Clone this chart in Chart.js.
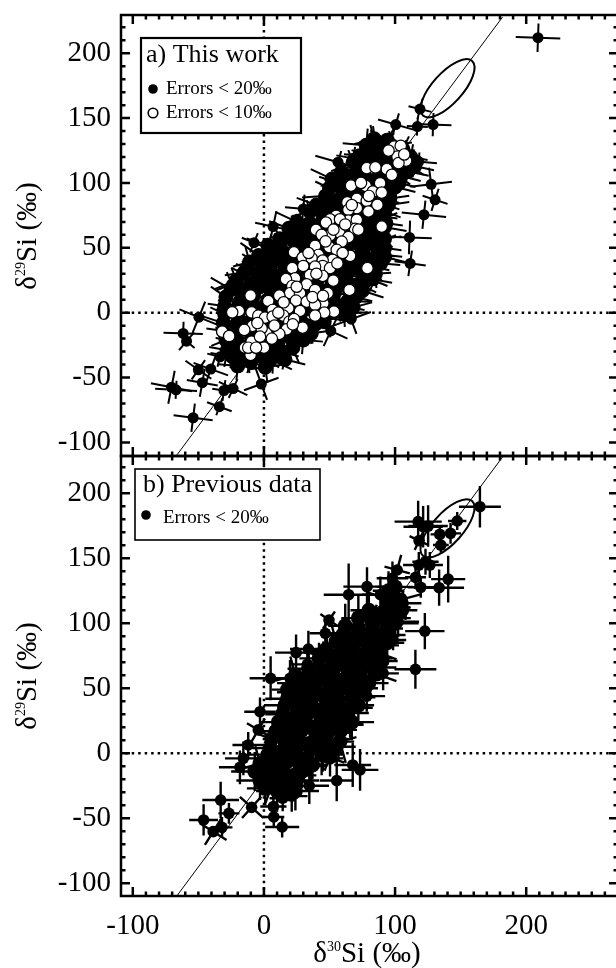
<!DOCTYPE html>
<html>
<head>
<meta charset="utf-8">
<style>
html, body { margin: 0; padding: 0; background: #fff; width: 616px; height: 968px; overflow: hidden; }
canvas { position: absolute; left: 0; }
#panelA { top: 0; }
#panelB { top: 446px; }
</style>
<script src="https://cdn.jsdelivr.net/npm/chart.js@4"></script>
</head>
<body>
<canvas id="panelA" width="620" height="466"></canvas>
<canvas id="panelB" width="620" height="522"></canvas>
<script>
// Axis ticks
const xMajor = [-100, 0, 100, 200];
const xMinor = [-90, -80, -70, -60, -50, -40, -30, -20, -10, 10, 20, 30, 40, 50, 60, 70, 80, 90, 110, 120, 130, 140, 150, 160, 170, 180, 190, 210, 220, 230, 240, 250, 260];
const yMajor = [-100, -50, 0, 50, 100, 150, 200];
const yMinor = [-90, -80, -70, -60, -40, -30, -20, -10, 10, 20, 30, 40, 60, 70, 80, 90, 110, 120, 130, 140, 160, 170, 180, 190, 210, 220];

// Reference line and ellipse, shared by both panels
const lineX = [-66.6, 182];
const lineY = [-110, 228];
const ellipseCentre = [140, 173];
const ellipseSemi = [28, 11.5];
const ellipseAngle = -48;

// Panel a: isolated points, read one by one
const aOutX = [209, 119, 100.5, 117, 129, 56.5, 118, 127.5, 130.5, 122, 111, 111.5, 92.5, 84, 66.5, 51, -7.6, -17, -24.6, -49.6, -61.6, -59, -50, -40.5, -47, -30.5, -23.5, -2, -34, -54, -70.5, -67, -33.5, 7, 30, 53.5, 68, 84.7, 106];
const aOutY = [212, 157, 145, 143.5, 145, 116, 116.5, 99, 87, 75.5, 58, 38, 44.5, 24.7, -5, -14, 54, 30.5, 22, -3.5, -16, -22, -44, -43.5, -54, -60, -58.5, -55, -72.5, -81, -57.5, -59.5, -34, 66.4, 80, 101, 119, 133, 105];
const aOutErrX = [17, 9, 14, 8, 14, 18, 14, 16, 10, 17, 17, 12, 13, 11, 16, 14, 10, 9, 12, 16, 15, 8, 12, 14, 12, 9, 12, 14, 10, 15, 16, 16, 10, 14, 14, 12, 13, 12, 14];
const aOutErrY = [11, 8, 9, 7, 9, 9, 7, 13, 9, 11, 13, 10, 10, 9, 12, 13, 8, 8, 10, 13, 9, 9, 9, 10, 11, 8, 8, 13, 7, 11, 13, 7, 8, 12, 11, 10, 9, 11, 12];
const aOutRot = [2, 14, 16, 3, 2, 16, 5, -7, 18, 6, 2, 8, 6, 22, -20, 25, 22, 28, -22, 22, 2, 40, 35, 20, 10, 8, 25, -20, 20, 7, 11, 3, 14, 12, 5, 18, 10, -8, 14];

// Panel a: the dense cloud of filled points
const aCloudX = [-20, -10, 1, 5, -28, -17, -8, 3, 12, 22, -31, -22, -11, -1, 10, 19, 28, 36, -30, -20, -9, 0, 11, 21, 30, 41, 50, 61, -29, -18, -8, 3, 13, 24, 33, 44, 53, 64, 70, -21, -10, 1, 10, 21, 32, 41, 52, 63, 72, 81, -11, -1, 9, 19, 31, 40, 51, 60, 71, 80, 89, 3, 13, 24, 33, 44, 53, 64, 75, 84, 92, 19, 29, 38, 48, 59, 68, 77, 87, 92, 35, 45, 56, 65, 74, 85, 92, 47, 57, 66, 77, 87, 96, 52, 62, 73, 82, 92, 103, 68, 77, 88, 98, 108, 115, 78, 88, 97, 106,
    -24, -14, -4, 7, 16, -29, -20, -9, 1, 11, 21, 30, -31, -21, -11, -1, 9, 19, 29, 39, 46, -30, -20, -10, 0, 10, 20, 30, 40, 50, 60, 68, -25, -15, -5, 5, 15, 25, 35, 45, 55, 65, 75, -15, -5, 5, 15, 25, 35, 45, 55, 65, 75, 85, -4, 6, 16, 26, 36, 46, 56, 66, 76, 86, 92, 12, 22, 32, 42, 52, 62, 72, 82, 92, 25, 35, 45, 55, 65, 75, 85, 93, 40, 50, 60, 70, 80, 90, 95, 50, 60, 70, 80, 90, 100, 60, 70, 80, 90, 100, 110, 73, 83, 93, 103, 112, 84, 94];
const aCloudY = [-41, -38, -42, -36, -29, -27, -31, -26, -30, -27, -14, -17, -13, -16, -12, -15, -13, -16, -1, -3, 1, -4, 0, -2, 2, -3, 0, -1, 12, 9, 13, 10, 13, 9, 12, 10, 13, 9, 12, 25, 22, 26, 23, 25, 22, 26, 23, 25, 22, 26, 39, 36, 40, 37, 39, 36, 40, 37, 39, 36, 38, 52, 49, 53, 50, 52, 49, 52, 50, 53, 50, 65, 62, 66, 63, 65, 62, 65, 63, 66, 78, 75, 79, 76, 78, 75, 78, 90, 87, 91, 88, 90, 88, 103, 100, 104, 101, 103, 100, 116, 113, 117, 114, 116, 113, 129, 127, 129, 126,
    -34, -35, -33, -34, -36, -21, -22, -20, -21, -22, -20, -21, -8, -9, -7, -8, -9, -7, -8, -9, -7, 5, 4, 6, 5, 4, 6, 5, 4, 6, 5, 4, 18, 17, 19, 18, 17, 19, 18, 17, 19, 18, 17, 31, 30, 32, 31, 30, 32, 31, 30, 32, 31, 30, 44, 43, 45, 44, 43, 45, 44, 43, 45, 44, 43, 57, 56, 58, 57, 56, 58, 57, 56, 57, 70, 69, 71, 70, 69, 71, 70, 69, 83, 82, 84, 83, 82, 84, 83, 96, 95, 97, 96, 95, 97, 108, 107, 109, 108, 107, 109, 121, 120, 122, 121, 120, 134, 133];
const aCloudErrX = [15, 17, 13, 18, 14, 16, 12, 17, 15, 18, 13, 16];
const aCloudErrY = [11, 9, 12, 10, 13, 8, 11, 12, 9, 13, 10, 11];
const aCloudRot = [5, 18, -8, 25, 10, -15, 30, 2, 14, -22, 8, 20, -4, 35, 12];

// Panel a: open circles
const aOpenX = [99.3, 104.3, 101.8, 108.4, 102.6, 93.7, 82.2, 78.4, 97.5, 88.6, 66.4, 77.6, 83, 89.8, 70.8, 63.6, 78.4, 86.5, 70.8, 64.4, 79.7, 55, 50.4, 47.3, 64.4, 70.8, 69.5, 89.8, 39.7, 57.5, 50.4, 44, 64.4, 59.3, 39, 49.9, 55.5, 22.9, 65.7, 29.5, 41.5, 36.4, 52.4, 44.8, 44.8, 50.4, 39, 35.1, 44.8, 78.9, 52.9, 21.6, 23.7, 16.8, 21.6, 32.6, 65.2, 39, 48.6, 19.9, 27.5, 11.7, -10.2, 3.3, 24.4, 32.6, 45.3, 39, -19.1, -24.2, -9.4, 6.6, 18.6, 27.5, 53.4, 46, 39, -4.3, 0.8, 6.6, 14.8, 19.3, 29.5, 17.3, -8.7, -15, -31.8, -26.5, 2, 11.7, -1.8, -9.4, -14.5, 0, -10.2, -3,
    95, 107, 85, 74, 80, 67, 58, 53, 47, 60, 34, 30, 40, 56, 25, 37, 45, 15, 11, 23, 8, -5, 22, -12, 6, -6, 72, 62];
const aOpenY = [128.1, 128.7, 120.4, 117.3, 115.3, 110.6, 111.4, 111.4, 106.3, 99.8, 98, 97.8, 93.4, 92.6, 87.8, 85, 86.2, 83.1, 80.6, 79.3, 78, 74.6, 72, 69.5, 71, 71.6, 64.6, 66.4, 63.8, 61.8, 59.5, 60, 58.2, 54.8, 51.5, 50.5, 48.4, 46.6, 43.8, 42.5, 44.5, 42, 40.7, 40.2, 36, 34.3, 35.5, 29.1, 28.3, 34.3, 24.7, 34.3, 26.5, 25.8, 20.6, 21.9, 17.5, 17.5, 15, 15, 15, 13.2, 13.2, 9, 9.3, 8.5, 7.2, 6, 1.3, 0.3, 0.3, 2.1, 3.4, 1.3, 0.8, 0, -2.3, -2.3, -3.8, -3, -2.3, -6.9, -11.5, -12.8, -10.2, -13.3, -14.6, -18, -15.9, -16.4, -12, -22.3, -27, -27, -32.6, -18.5,
    125, 122, 112, 100, 90, 83, 72, 64, 55, 46, 46, 36, 30, 38, 20, 12, 13, 8, 0, -5, -10, -8, -9, -27, -20, -27, 64, 68];

// Panel b: isolated points, read one by one
const bOutX = [164.7, 147.4, 117.6, 125.2, 121.4, 134.1, 142.3, 118.3, 134.9, 123.2, 126.5, 118.1, 101.6, 115.6, 140.5, 133.6, 119.6, 98, 78.6, 64.6, 88.8, 106.1, 122.7, 115.5, 98.5, 49.6, 46.8, 102.3, 90.9, 33.9, 24.5, 33.1, 5.1, 19.9, 41.5, -3, -4.3, -12, -15.7, -18.3, 78.4, 68.2, 65.7, 56.8, 50.4, 67.7, 73.3, 55.5, 34.6, 35.9, 21.2, 14.3, 7.2, 7.5, -9.4, -26.7, -33, 13.9, -32, -38.7, -46];
const bOutY = [189.7, 178.7, 178.2, 174.8, 174.3, 168.4, 169.2, 163.6, 160.2, 147.4, 144.8, 144.8, 141, 135.4, 134, 127.4, 127.7, 134.6, 128.2, 122, 122, 115.4, 94, 64.6, 87.2, 102.5, 92.3, 101.3, 61.5, 80.2, 77.4, 68.4, 57.7, 57.7, 76.9, 32, 18, 6.4, -3.9, -10.8, 44, 37, 23, 9, -3.9, -9, -12.8, -21, -25, -9.8, -33, -34.6, -41, -49, -41.6, -46.2, -36, -56.7, -57, -60.3, -51.3];
const bOutErrX = [16, 7, 18, 15, 15, 7, 8, 8, 6, 10, 10, 12, 10, 8, 13, 19, 10, 12, 18, 19, 14, 14, 15, 16, 10, 8, 12, 16, 12, 14, 16, 12, 16, 14, 10, 12, 10, 12, 14, 16, 14, 12, 10, 12, 10, 14, 14, 13, 15, 12, 12, 10, 10, 8, 12, 8, 14, 13, 8, 12, 11];
const bOutErrY = [16, 7, 16, 16, 16, 7, 8, 8, 6, 10, 10, 10, 12, 7, 18, 14, 8, 13, 15, 24, 14, 10, 14, 15, 8, 8, 10, 12, 13, 14, 14, 13, 17, 14, 10, 11, 10, 10, 13, 13, 12, 12, 11, 14, 14, 17, 16, 16, 14, 16, 12, 10, 9, 8, 11, 8, 14, 8, 8, 12, 12];
const bOutRot = [0, 0, 0, 0, 0, 0, 0, 25, 0, 0, 0, 0, 15, 0, 0, 0, 0, 0, 0, 0, 0, 0, 0, 0, 0, 35, 0, 0, 0, 0, 0, 0, 0, 0, 25, 0, 30, 0, 0, 0, 0, 0, 0, 0, 0, 0, 0, 0, 0, 0, 0, 0, 0, 0, 42, 0, 0, 0, 0, 32, 0];

// Panel b: the dense cloud
const bCloudX = [80, 90, 99, 95, 62, 72, 83, 94, 55, 65, 75, 85, 94, 42, 52, 62, 72, 82, 90, 24, 34, 44, 54, 64, 74, 86, 18, 28, 38, 48, 58, 68, 73, 16, 26, 36, 46, 56, 66, 72, 11, 21, 31, 41, 51, 61, 67, 6, 16, 26, 36, 46, 58, 3, 13, 23, 33, 44, 50, -7, 3, 13, 23, 29, 1, 10, 18, 24,
    72, 82, 92, 100, 60, 70, 80, 90, 48, 58, 68, 78, 88, 34, 44, 54, 64, 74, 84, 22, 30, 40, 50, 60, 70, 80, 18, 27, 37, 47, 57, 67, 14, 24, 34, 44, 54, 64, 9, 19, 29, 39, 49, 59, 5, 15, 25, 35, 45, 55, -3, 7, 17, 27, 37, -3, 7, 15, 25, 95, 100, 104, 105, 100];
const bCloudY = [110, 108, 112, 118, 98, 96, 99, 96, 86, 84, 87, 83, 85, 73, 71, 74, 70, 73, 71, 60, 58, 61, 57, 60, 58, 61, 49, 47, 50, 46, 49, 47, 50, 37, 35, 38, 34, 37, 35, 37, 24, 22, 25, 21, 24, 22, 24, 11, 9, 12, 8, 11, 9, -1, -3, 0, -4, -1, -3, -14, -16, -13, -17, -14, -27, -29, -26, -29,
    104, 103, 105, 104, 91, 90, 92, 91, 78, 77, 79, 78, 77, 65, 64, 66, 65, 64, 66, 54, 53, 55, 54, 53, 55, 54, 42, 41, 43, 42, 41, 43, 30, 29, 31, 30, 29, 31, 17, 16, 18, 17, 16, 18, 4, 3, 5, 4, 3, 5, -8, -9, -7, -8, -9, -21, -22, -20, -21, 125, 128, 118, 110, 100];
const bCloudErrX = [14, 16, 12, 18, 13, 15, 17, 12];
const bCloudErrY = [13, 16, 11, 15, 17, 12, 14, 15];
const bCloudRot = [0, 0, 0, 20, 0, 0, 0, 0, -15, 0, 0];

const serif = '"Liberation Serif", "Times New Roman", serif';

function toPoints(xs, ys) {
    return xs.map((x, i) => ({ x: x, y: ys[i] }));
}

// Whisker arrays for a full point list: isolated values first, then the cloud lists repeated
function armList(outList, cloudList, cloudCount) {
    const out = outList.slice();
    for (let i = 0; i < cloudCount; i++) out.push(cloudList[i % cloudList.length]);
    return out;
}

// Isolated points keep their true size, overlapping cloud points are drawn a bit larger so they merge
function radiusList(outCount, outRadius, cloudCount, cloudRadius) {
    return new Array(outCount).fill(outRadius).concat(new Array(cloudCount).fill(cloudRadius));
}

// Axis title with a small superscript mass number, centred on (cx, cy)
function drawSiTitle(ctx, mass, cx, cy, vertical) {
    ctx.save();
    ctx.translate(cx, cy);
    if (vertical) ctx.rotate(-Math.PI / 2);
    ctx.fillStyle = '#000';
    ctx.textBaseline = 'alphabetic';
    const big = '29px ' + serif, small = '14px ' + serif;
    ctx.font = big;
    const w1 = ctx.measureText('δ').width, w3 = ctx.measureText('Si (‰)').width;
    ctx.font = small;
    const w2 = ctx.measureText(mass).width;
    let x = -(w1 + w2 + w3) / 2;
    ctx.font = big;
    ctx.fillText('δ', x, 0);
    x += w1;
    ctx.font = small;
    ctx.fillText(mass, x, -11);
    x += w2;
    ctx.font = big;
    ctx.fillText('Si (‰)', x, 0);
    ctx.restore();
}

const inwardFramePlugin = {
    id: 'inwardFrame',
    beforeDatasetDraw(chart, args) {
        const ds = chart.data.datasets[args.index];
        if (!ds.arms) return;
        const ctx = chart.ctx, xs = chart.scales.x, ys = chart.scales.y;
        ctx.save();
        ctx.strokeStyle = '#000';
        ctx.lineWidth = ds.arms.width;
        ds.data.forEach((p, i) => {
            const px = xs.getPixelForValue(p.x), py = ys.getPixelForValue(p.y);
            const lx = Math.abs(xs.getPixelForValue(p.x + ds.arms.x[i]) - px);
            const ly = Math.abs(ys.getPixelForValue(p.y + ds.arms.y[i]) - py);
            ctx.save();
            ctx.translate(px, py);
            ctx.rotate(ds.arms.rot[i] * Math.PI / 180);
            ctx.beginPath();
            ctx.moveTo(-lx, 0); ctx.lineTo(lx, 0);
            ctx.moveTo(0, -ly); ctx.lineTo(0, ly);
            ctx.stroke();
            ctx.restore();
        });
        ctx.restore();
    },
    afterDatasetsDraw(chart) {
        const ctx = chart.ctx, xs = chart.scales.x, ys = chart.scales.y, area = chart.chartArea;
        ctx.save();
        ctx.strokeStyle = '#000';

        // ellipse
        const ex = xs.getPixelForValue(ellipseCentre[0]), ey = ys.getPixelForValue(ellipseCentre[1]);
        const ea = xs.getPixelForValue(ellipseCentre[0] + ellipseSemi[0]) - ex;
        const eb = xs.getPixelForValue(ellipseCentre[0] + ellipseSemi[1]) - ex;
        ctx.lineWidth = 2;
        ctx.beginPath();
        ctx.ellipse(ex, ey, ea, eb, ellipseAngle * Math.PI / 180, 0, Math.PI * 2);
        ctx.stroke();

        // frame and inward ticks on all four sides
        ctx.lineWidth = 2.5;
        ctx.strokeRect(area.left, area.top, area.right - area.left, area.bottom - area.top);
        const drawX = (values, len) => values.forEach(v => {
            const p = xs.getPixelForValue(v);
            ctx.beginPath();
            ctx.moveTo(p, area.top); ctx.lineTo(p, area.top + len);
            ctx.moveTo(p, area.bottom); ctx.lineTo(p, area.bottom - len);
            ctx.stroke();
        });
        const drawY = (values, len) => values.forEach(v => {
            const p = ys.getPixelForValue(v);
            ctx.beginPath();
            ctx.moveTo(area.left, p); ctx.lineTo(area.left + len, p);
            ctx.moveTo(area.right, p); ctx.lineTo(area.right - len, p);
            ctx.stroke();
        });
        drawX(xMajor, 9); drawX(xMinor, 4.5);
        drawY(yMajor, 9); drawY(yMinor, 4.5);
        ctx.restore();

        // legend box
        const lg = chart.options.plugins.inwardFrame;
        ctx.save();
        ctx.fillStyle = '#fff';
        ctx.strokeStyle = '#000';
        ctx.lineWidth = lg.boxLine;
        ctx.fillRect(lg.box[0], lg.box[1], lg.box[2], lg.box[3]);
        ctx.strokeRect(lg.box[0], lg.box[1], lg.box[2], lg.box[3]);
        ctx.fillStyle = '#000';
        ctx.textBaseline = 'middle';
        ctx.font = '26px ' + serif;
        ctx.fillText(lg.title, lg.titleX, lg.titleY);
        ctx.font = '19px ' + serif;
        lg.rows.forEach(r => {
            ctx.beginPath();
            ctx.arc(r.mx, r.my, 4.8, 0, Math.PI * 2);
            ctx.fillStyle = r.open ? '#fff' : '#000';
            ctx.fill();
            if (r.open) { ctx.lineWidth = 1.6; ctx.stroke(); }
            ctx.fillStyle = '#000';
            ctx.fillText(r.text, r.tx, r.ty);
        });
        ctx.restore();

        // axis titles
        drawSiTitle(ctx, '29', 36, lg.yTitleMid, true);
        if (lg.xTitleY) drawSiTitle(ctx, '30', 367, lg.xTitleY, false);
    }
};

function baseDatasets() {
    return [
        { data: toPoints(lineX, lineY), showLine: true, pointRadius: 0, borderColor: '#000', borderWidth: 1 },
        { data: toPoints([0, 0], [-200, 400]), showLine: true, pointRadius: 0, borderColor: '#000', borderWidth: 2.5, borderDash: [2.5, 4] },
        { data: toPoints([-200, 400], [0, 0]), showLine: true, pointRadius: 0, borderColor: '#000', borderWidth: 2.5, borderDash: [2.5, 4] }
    ];
}

function makePanel(id, datasets, opts) {
    return new Chart(document.getElementById(id), {
        type: 'scatter',
        data: { datasets: datasets.concat(baseDatasets()) },
        plugins: [inwardFramePlugin],
        options: {
            responsive: false,
            animation: false,
            devicePixelRatio: 1,
            layout: { padding: opts.padding, autoPadding: false },
            plugins: { legend: { display: false }, tooltip: { enabled: false }, inwardFrame: opts.legend },
            scales: {
                x: {
                    type: 'linear',
                    display: opts.showX,
                    min: -109,
                    max: 270,
                    afterBuildTicks: s => { s.ticks = xMajor.map(v => ({ value: v })); },
                    afterFit: s => { s.height = opts.showX ? 72 : 0; s.paddingLeft = 0; s.paddingRight = 0; },
                    grid: { display: false, drawTicks: false },
                    border: { display: false },
                    ticks: { color: '#000', font: { family: serif, size: 29 }, padding: 13, autoSkip: false, maxRotation: 0 }
                },
                y: {
                    type: 'linear',
                    min: opts.yMin,
                    max: opts.yMax,
                    afterBuildTicks: s => { s.ticks = yMajor.map(v => ({ value: v })); },
                    afterFit: s => { s.width = 121; s.paddingTop = 0; s.paddingBottom = 0; },
                    grid: { display: false, drawTicks: false },
                    border: { display: false },
                    ticks: { color: '#000', font: { family: serif, size: 29 }, padding: 10, autoSkip: false, maxRotation: 0 }
                }
            }
        }
    });
}

const aBlack = toPoints(aOutX.concat(aCloudX), aOutY.concat(aCloudY));
const bBlack = toPoints(bOutX.concat(bCloudX), bOutY.concat(bCloudY));

makePanel('panelA', [
    { data: toPoints(aOpenX, aOpenY), pointRadius: 5.7, pointBackgroundColor: '#fff', pointBorderColor: '#000', pointBorderWidth: 1.2 },
    {
        data: aBlack, pointRadius: radiusList(aOutX.length, 5.5, aCloudX.length, 7.5), pointBackgroundColor: '#000', pointBorderColor: '#000', pointBorderWidth: 0,
        arms: {
            width: 2,
            x: armList(aOutErrX, aCloudErrX, aCloudX.length),
            y: armList(aOutErrY, aCloudErrY, aCloudX.length),
            rot: armList(aOutRot, aCloudRot, aCloudX.length)
        }
    }
], {
    padding: { left: 0, top: 15, right: 2, bottom: 10 },
    showX: false,
    yMin: -110.5,
    yMax: 229.5,
    legend: {
        box: [141, 38, 160, 95], boxLine: 2.2,
        title: 'a) This work', titleX: 146, titleY: 55,
        yTitleMid: 236,
        rows: [
            { text: 'Errors < 20‰', tx: 166, ty: 89, mx: 153, my: 89, open: false },
            { text: 'Errors < 10‰', tx: 166, ty: 113, mx: 153, my: 113, open: true }
        ]
    }
});

makePanel('panelB', [
    {
        data: bBlack, pointRadius: radiusList(bOutX.length, 5.8, bCloudX.length, 7.5), pointBackgroundColor: '#000', pointBorderColor: '#000', pointBorderWidth: 0,
        arms: {
            width: 2.4,
            x: armList(bOutErrX, bCloudErrX, bCloudX.length),
            y: armList(bOutErrY, bCloudErrY, bCloudX.length),
            rot: armList(bOutRot, bCloudRot, bCloudX.length)
        }
    }
], {
    padding: { left: 0, top: 10, right: 2, bottom: 0 },
    showX: true,
    yMin: -109.8,
    yMax: 228.7,
    legend: {
        box: [135, 23, 185, 71], boxLine: 1.6,
        title: 'b) Previous data', titleX: 143, titleY: 39,
        yTitleMid: 230,
        xTitleY: 516,
        rows: [
            { text: 'Errors < 20‰', tx: 163, ty: 72, mx: 146, my: 69, open: false }
        ]
    }
});
</script>
</body>
</html>
